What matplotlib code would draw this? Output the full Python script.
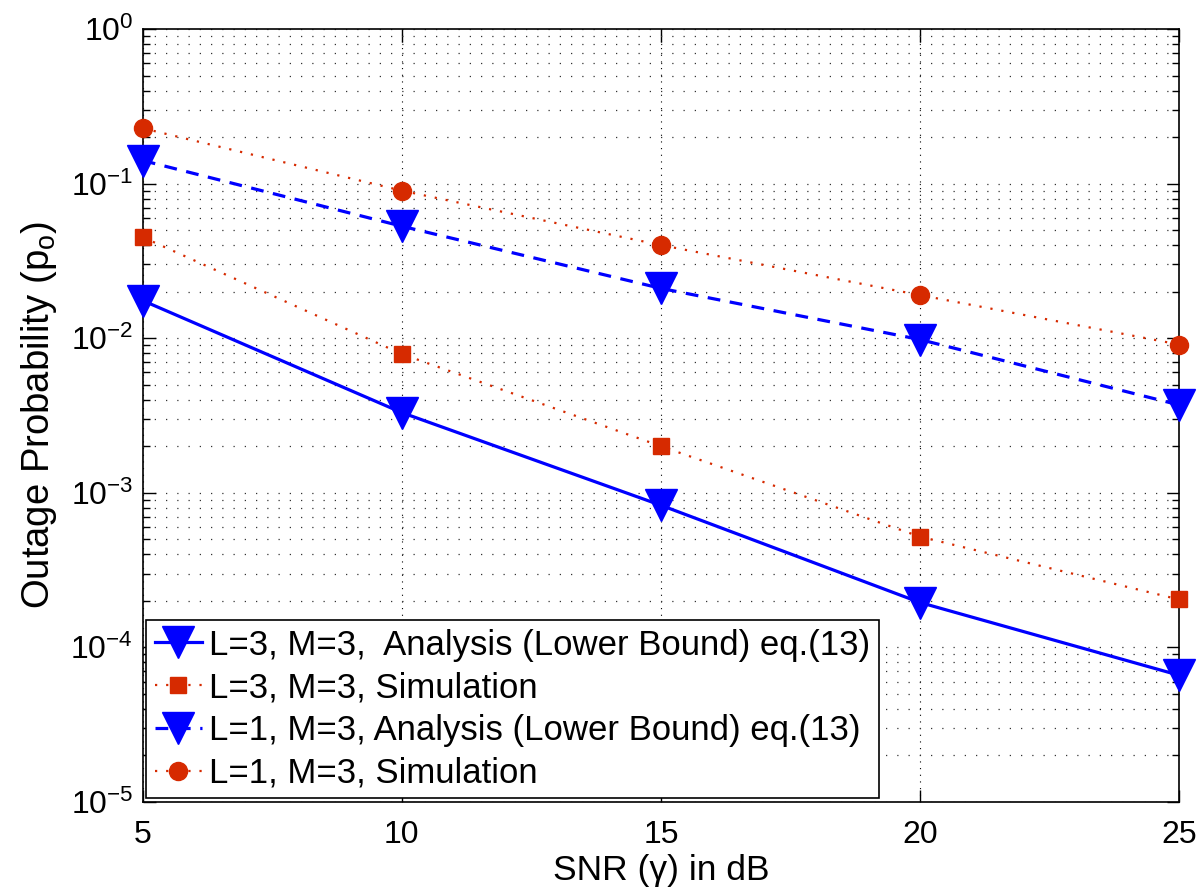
import matplotlib
matplotlib.use('Agg')
import matplotlib.pyplot as plt
from matplotlib.ticker import LogLocator, NullFormatter, FixedLocator

plt.rcParams['font.family'] = ['Liberation Sans', 'DejaVu Sans']
plt.rcParams['mathtext.fontset'] = 'custom'
plt.rcParams['mathtext.rm'] = 'Liberation Sans'
plt.rcParams['mathtext.it'] = 'Liberation Sans:italic'

snr = [5, 10, 15, 20, 25]
l3_analysis = [0.0175, 0.0033, 0.00083, 0.000195, 0.000066]
l3_sim = [0.045, 0.0079, 0.0020, 0.00052, 0.000204]
l1_analysis = [0.141, 0.053, 0.021, 0.0098, 0.0037]
l1_sim = [0.228, 0.090, 0.040, 0.019, 0.0091]

labels = ['L=3, M=3,  Analysis (Lower Bound) eq.(13)',
          'L=3, M=3, Simulation',
          'L=1, M=3, Analysis (Lower Bound) eq.(13)',
          'L=1, M=3, Simulation']

blue = '#0000FF'
red = '#D62A00'

fig = plt.figure(figsize=(12, 8.93), dpi=100)
ax = fig.add_axes([0.119, 0.102, 0.8635, 0.8655])

ax.plot(snr, l3_analysis, color=blue, lw=2.3, ls='-', marker='v', ms=23,
        label=labels[0], clip_on=False, zorder=3)
ax.plot(snr, l3_sim, color=red, lw=1.6, ls=(0, (1, 4)), marker='s', ms=11,
        label=labels[1], clip_on=False, zorder=3)
ax.plot(snr, l1_analysis, color=blue, lw=2.3, ls=(0, (4, 3)), marker='v', ms=23,
        label=labels[2], clip_on=False, zorder=3)
ax.plot(snr, l1_sim, color=red, lw=1.6, ls=(0, (1, 4)), marker='o', ms=13,
        label=labels[3], clip_on=False, zorder=3)

ax.set_yscale('log')
ax.set_xlim(5, 25)
ax.set_ylim(1e-5, 1)
ax.xaxis.set_major_locator(FixedLocator([5, 10, 15, 20, 25]))
ax.yaxis.set_major_locator(LogLocator(base=10, numticks=10))
ax.yaxis.set_minor_locator(LogLocator(base=10, subs=range(2, 10), numticks=50))
ax.yaxis.set_minor_formatter(NullFormatter())

ax.grid(True, which='major', axis='x', color='black', ls=(0, (1, 5)), lw=0.8)
ax.grid(True, which='both', axis='y', color='#333333', ls=(0, (1, 8)), lw=0.9)

ax.tick_params(which='both', direction='in', top=True, right=True, width=1)
ax.tick_params(which='major', length=9, labelsize=23)
ax.tick_params(axis='x', which='major', pad=13)
ax.tick_params(axis='y', which='major', pad=7)
ax.tick_params(which='minor', length=5)
for s in ax.spines.values():
    s.set_linewidth(1.2)

ax.set_xlabel('SNR (γ) in dB', fontsize=25.5, labelpad=3)
ax.set_ylabel(r'Outage Probability (p$_{\rm o}$)', fontsize=27.5, labelpad=8)

leg = ax.legend(loc='lower left', fontsize=25, frameon=True, fancybox=False,
                edgecolor='black', framealpha=1, borderaxespad=0.1,
                handlelength=1.35, handletextpad=0.2, labelspacing=0.28,
                borderpad=0.25)
leg.get_frame().set_linewidth(1.2)

fig.savefig('out.png', dpi=100)
